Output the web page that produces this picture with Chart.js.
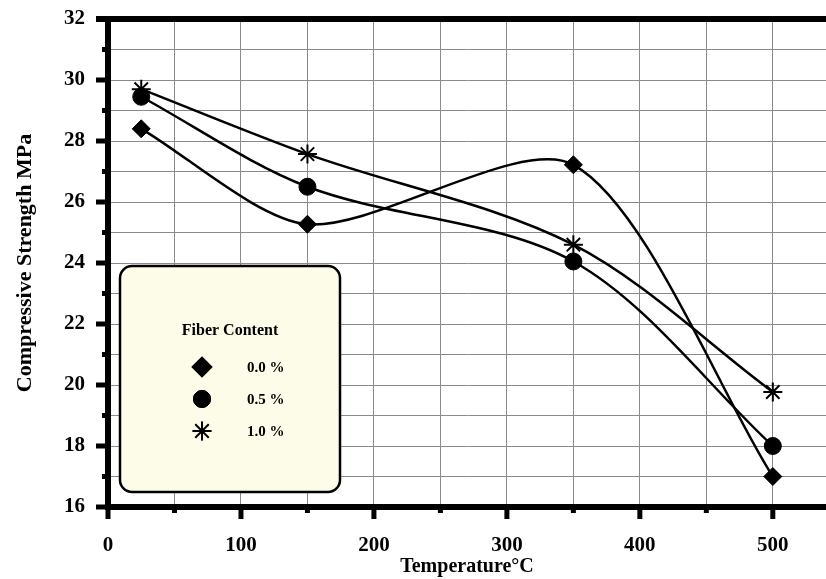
<!DOCTYPE html>
<html>
<head>
<meta charset="utf-8">
<script src="https://cdn.jsdelivr.net/npm/chart.js@4/dist/chart.umd.min.js"></script>
<style>
  html, body { margin: 0; padding: 0; background: #fff; }
  #wrap { width: 826px; height: 579px; }
</style>
</head>
<body>
<div id="wrap"><canvas id="chart" width="826" height="579"></canvas></div>
<script>
// datos
const temps = [25, 150, 350, 500];
const fiber00 = [28.4, 25.27, 27.22, 17.0];
const fiber05 = [29.45, 26.5, 24.05, 18.0];
const fiber10 = [29.7, 27.57, 24.6, 19.77];
const seriesLabels = ['0.0 %', '0.5 %', '1.0 %'];
const legendTitle = 'Fiber Content';
const xTitle = 'Temperature\u00B0C';
const yTitle = 'Compressive Strength MPa';

const FONT = "'Liberation Serif', 'Times New Roman', serif";

function toPoints(ys) {
    return temps.map((t, i) => ({ x: t, y: ys[i] }));
}

// marcas de los ejes (mayores y menores), marco superior y leyenda
const framePlugin = {
    id: 'frame',
    afterDraw(chart) {
        const ctx = chart.ctx;
        const area = chart.chartArea;
        const xs = chart.scales.x;
        const ys = chart.scales.y;
        ctx.save();
        ctx.fillStyle = '#000';

        // borde superior
        ctx.fillRect(area.left - 12, area.top - 3, area.right - area.left + 12, 6);

        xs.ticks.forEach(t => {
            const px = xs.getPixelForValue(t.value);
            const len = t.value % 100 === 0 ? 12 : 6;
            ctx.fillRect(px - 2.5, area.bottom, 5, len);
        });
        ys.ticks.forEach(t => {
            const py = ys.getPixelForValue(t.value);
            const len = t.value % 2 === 0 ? 12 : 6;
            ctx.fillRect(area.left - len, py - 2.5, len, 5);
        });

        // leyenda
        const bx = 120, by = 266, bw = 220, bh = 226, r = 12;
        ctx.beginPath();
        ctx.moveTo(bx + r, by);
        ctx.arcTo(bx + bw, by, bx + bw, by + bh, r);
        ctx.arcTo(bx + bw, by + bh, bx, by + bh, r);
        ctx.arcTo(bx, by + bh, bx, by, r);
        ctx.arcTo(bx, by, bx + bw, by, r);
        ctx.closePath();
        ctx.fillStyle = '#fcfce8';
        ctx.fill();
        ctx.lineWidth = 2.5;
        ctx.strokeStyle = '#000';
        ctx.stroke();

        ctx.fillStyle = '#000';
        ctx.font = 'bold 16px ' + FONT;
        ctx.textAlign = 'center';
        ctx.textBaseline = 'middle';
        ctx.fillText(legendTitle, 230, 331);

        ctx.textAlign = 'left';
        ctx.font = 'bold 15px ' + FONT;
        chart.data.datasets.forEach((ds, i) => {
            const y = 367 + i * 32;
            Chart.helpers.drawPoint(ctx, {
                pointStyle: ds.pointStyle,
                radius: ds.pointRadius,
                borderWidth: ds.pointBorderWidth,
                rotation: 0
            }, 202, y);
            ctx.fillStyle = '#000';
            ctx.strokeStyle = '#000';
            ctx.lineWidth = ds.pointBorderWidth;
            ctx.fill();
            ctx.stroke();
            ctx.fillText(ds.label, 247, y + 1);
        });
        ctx.restore();
    }
};

function makeDataset(label, ys, style, radius, bw, tension) {
    return {
        label: label,
        data: toPoints(ys),
        borderColor: '#000',
        backgroundColor: '#000',
        borderWidth: 2.5,
        tension: tension,
        pointStyle: style,
        pointRadius: radius,
        pointHoverRadius: radius,
        pointBorderWidth: bw,
        pointBackgroundColor: '#000',
        pointBorderColor: '#000'
    };
}

new Chart(document.getElementById('chart'), {
    type: 'line',
    data: {
        datasets: [
            makeDataset(seriesLabels[0], fiber00, 'rectRot', 9, 1, 0.27),
            makeDataset(seriesLabels[1], fiber05, 'circle', 8.5, 1, 0.32),
            makeDataset(seriesLabels[2], fiber10, 'star', 9.5, 2, 0.32)
        ]
    },
    options: {
        responsive: false,
        animation: false,
        layout: { autoPadding: false, padding: { top: 19, right: 0, bottom: 0, left: 0 } },
        plugins: {
            legend: { display: false },
            tooltip: { enabled: false }
        },
        scales: {
            x: {
                type: 'linear',
                min: 0,
                max: 540,
                afterBuildTicks: s => {
                    const t = [];
                    for (let v = 0; v <= 500; v += 50) t.push({ value: v });
                    s.ticks = t;
                },
                afterFit: s => {
                    s.height = 72;
                    s.paddingLeft = 0;
                    s.paddingRight = 0;
                },
                grid: { color: '#8a8a8a', lineWidth: 1, drawTicks: false },
                border: { display: true, color: '#000', width: 6 },
                ticks: {
                    autoSkip: false,
                    maxRotation: 0,
                    padding: 26,
                    color: '#000',
                    font: { family: FONT, size: 21, weight: 'bold' },
                    callback: v => (v % 100 === 0 ? v : '')
                },
                title: {
                    display: true,
                    text: xTitle,
                    color: '#000',
                    padding: { top: 0, bottom: 0 },
                    font: { family: FONT, size: 20, weight: 'bold' }
                }
            },
            y: {
                min: 16,
                max: 32,
                afterFit: s => {
                    s.width = 108;
                    s.paddingTop = 0;
                    s.paddingBottom = 0;
                },
                grid: { color: '#8a8a8a', lineWidth: 1, drawTicks: false },
                border: { display: true, color: '#000', width: 6 },
                ticks: {
                    stepSize: 1,
                    autoSkip: false,
                    padding: 23,
                    color: '#000',
                    font: { family: FONT, size: 21, weight: 'bold' },
                    callback: v => (v % 2 === 0 ? v : '')
                },
                title: {
                    display: true,
                    text: yTitle,
                    color: '#000',
                    padding: { top: 12, bottom: 0 },
                    font: { family: FONT, size: 22, weight: 'bold' }
                }
            }
        }
    },
    plugins: [framePlugin]
});
</script>
</body>
</html>
